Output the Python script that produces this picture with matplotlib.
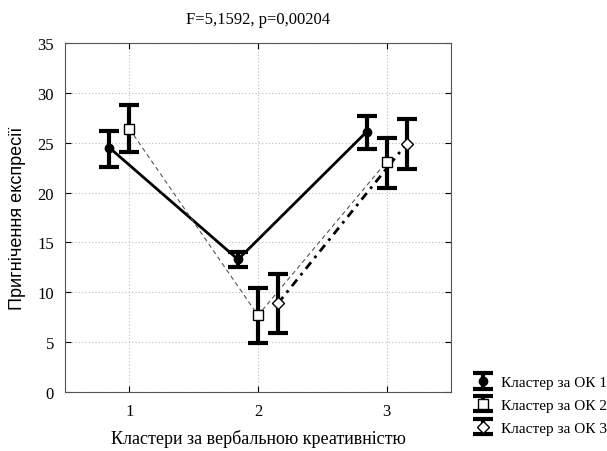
import numpy as np
import matplotlib
matplotlib.use('Agg')
import matplotlib.pyplot as plt

clusters = [1, 2, 3]
labels = ['Кластер за ОК 1', 'Кластер за ОК 2', 'Кластер за ОК 3']

ok1 = [24.5, 13.3, 26.1]
ok1_lo = [22.6, 12.5, 24.4]
ok1_hi = [26.2, 14.0, 27.7]

ok2 = [26.4, 7.7, 23.1]
ok2_lo = [24.1, 4.9, 20.5]
ok2_hi = [28.8, 10.4, 25.5]

ok3 = [np.nan, 8.9, 24.9]
ok3_lo = [np.nan, 5.9, 22.4]
ok3_hi = [np.nan, 11.8, 27.4]

serif = ['Liberation Serif', 'DejaVu Serif']

fig = plt.figure(figsize=(6.07, 4.52), dpi=100)
ax = fig.add_axes([0.107, 0.13, 0.636, 0.773])

offsets = [-0.155, 0.0, 0.155]
styles = [
    dict(fmt='o', ls='-', lw=2.0, color='black', mfc='black', ms=6),
    dict(fmt='s', ls=(0, (4, 3)), lw=0.8, color='#555555', mfc='white', ms=7),
    dict(fmt='D', ls=(0, (3, 2, 1, 2)), lw=2.0, color='black', mfc='white', ms=6),
]
series = [(ok1, ok1_lo, ok1_hi), (ok2, ok2_lo, ok2_hi), (ok3, ok3_lo, ok3_hi)]

handles = []
for (vals, lo, hi), off, st, lab in zip(series, offsets, styles, labels):
    x = np.array(clusters) + off
    v = np.array(vals)
    yerr = [v - np.array(lo), np.array(hi) - v]
    # line connecting means
    ax.plot(x, v, ls=st['ls'], lw=st['lw'], color=st['color'], zorder=2)
    h = ax.errorbar(x, v, yerr=yerr, fmt=st['fmt'], color='black', mec='black',
                    mfc=st['mfc'], ms=st['ms'], ecolor='black', elinewidth=3,
                    capsize=7, capthick=3, zorder=3, label=lab)
    handles.append(h)

ax.set_xlim(0.5, 3.5)
ax.set_ylim(0, 35)
ax.set_xticks(clusters)
ax.set_yticks(range(0, 36, 5))
ax.grid(True, ls=(0, (1, 2)), color='#bbbbbb', lw=0.8)
ax.tick_params(direction='in', top=True, right=True, length=4, labelsize=12, pad=8)
for t in ax.get_xticklabels() + ax.get_yticklabels():
    t.set_family(serif)
for s in ax.spines.values():
    s.set_color('#555555')

ax.set_title('F=5,1592, p=0,00204', family=serif, fontsize=12, pad=14)
ax.set_xlabel('Кластери за вербальною креативністю', family=serif, fontsize=13, labelpad=7)
ax.set_ylabel('Пригнічення експресії', family=['Liberation Sans Narrow', 'Liberation Sans', 'DejaVu Sans'],
              fontsize=13, labelpad=8)

fig.legend(handles=handles, labels=labels, loc='lower left', bbox_to_anchor=(0.75, 0.005),
           frameon=False, prop={'family': serif, 'size': 11}, handlelength=1.8,
           handletextpad=0.3, labelspacing=0.6)

fig.savefig('out.png', dpi=100)
